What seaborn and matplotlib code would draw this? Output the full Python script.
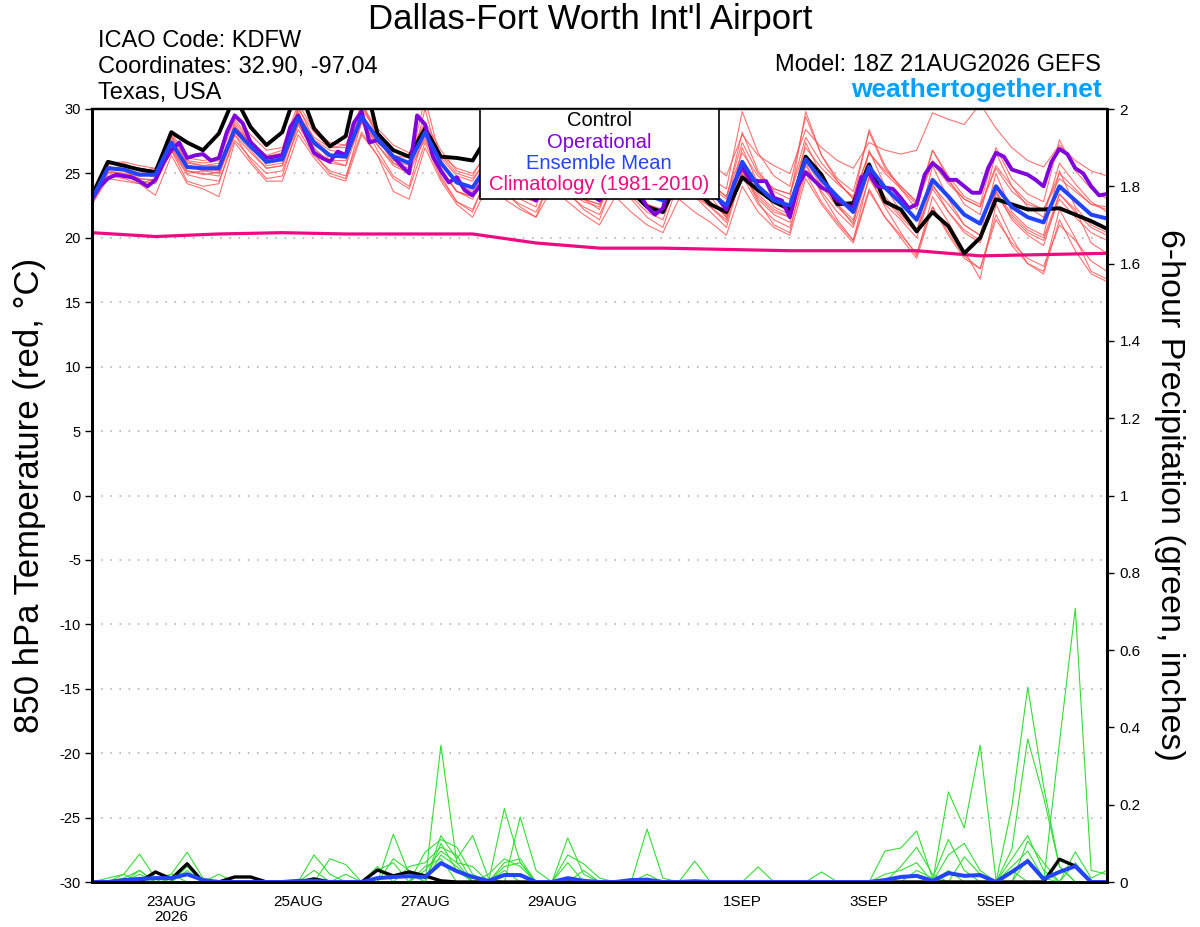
import numpy as np
import pandas as pd
import seaborn as sns
import matplotlib.pyplot as plt
from matplotlib.patches import Rectangle

# forecast hours (GEFS 6-hourly, operational 3-hourly)
fhours = np.arange(0, 385, 6)
op_hours = np.arange(0, 385, 3)
clim_hours = np.arange(0, 385, 24)

tick_hours = [30, 78, 126, 174, 246, 294, 342]
tick_labels = ["23AUG\n2026", "25AUG", "27AUG", "29AUG", "1SEP", "3SEP", "5SEP"]

# 850 hPa temperature, degC
control = [23.3, 25.9, 25.6, 25.3, 25.1, 28.2, 27.4, 26.8, 28.1, 31.0, 28.6, 27.2, 28.2,
           31.8, 28.5, 27.1, 27.9, 33.3, 28.1, 26.8, 26.3, 28.5, 26.3, 26.2, 26.0, 28.0,
           25.8, 24.4, 23.6, 25.8, 24.6, 23.5, 23.0, 25.0, 23.6, 22.4, 22.0, 24.6, 23.8,
           22.6, 22.0, 24.7, 23.7, 22.8, 22.2, 26.3, 24.9, 22.6, 22.7, 25.7, 22.8, 22.2,
           20.5, 22.0, 20.9, 18.8, 20.0, 23.0, 22.6, 22.2, 22.2, 22.3, 21.8, 21.3, 20.7]

ens_mean = [23.0, 25.4, 25.3, 24.9, 24.9, 27.4, 25.5, 25.4, 25.4, 28.4, 27.1, 25.9, 26.1,
            29.3, 27.4, 26.4, 26.3, 29.4, 27.7, 26.3, 25.8, 28.2, 25.8, 24.3, 23.9, 25.8,
            24.6, 23.8, 23.4, 25.6, 24.6, 23.8, 23.3, 25.4, 24.2, 23.3, 22.9, 25.2, 24.2,
            23.5, 22.5, 25.9, 24.0, 22.9, 22.5, 26.1, 24.5, 23.2, 22.0, 25.5, 23.9, 22.7,
            21.4, 24.5, 23.2, 21.8, 21.1, 24.0, 22.4, 21.6, 21.2, 24.0, 22.9, 21.8, 21.5]

operational = [23.0, 24.0, 24.6, 24.9, 24.8, 24.7, 24.4, 24.0, 24.5, 25.8, 26.8, 27.4, 26.2,
               26.4, 26.5, 26.0, 26.2, 28.2, 29.5, 28.9, 27.4, 26.8, 26.2, 26.3, 26.4, 28.6,
               29.5, 28.0, 26.6, 26.2, 25.9, 26.7, 26.4, 28.9, 29.8, 27.4, 27.6, 27.0, 26.3,
               25.6, 25.0, 29.5, 28.8, 26.3, 25.2, 24.3, 24.7, 23.7, 23.3, 24.1, 25.5, 25.8,
               25.0, 24.3, 23.8, 23.3, 22.9, 24.0, 25.8, 25.5, 24.8, 24.2, 23.8, 23.3, 22.9,
               24.2, 25.6, 25.2, 24.5, 23.5, 22.4, 21.8, 22.3, 24.5, 25.6, 25.0, 24.3, 23.7,
               23.6, 23.0, 22.2, 24.3, 25.5, 24.5, 24.4, 24.4, 23.1, 22.9, 21.6, 24.0, 25.1,
               24.5, 23.9, 23.6, 22.9, 22.6, 22.3, 24.7, 25.0, 24.0, 23.9, 23.8, 23.1, 22.3,
               22.6, 24.9, 25.8, 25.3, 24.5, 24.5, 24.0, 23.5, 23.5, 25.4, 26.6, 26.3, 25.3,
               25.1, 24.9, 24.5, 24.0, 25.9, 26.9, 26.5, 25.4, 25.0, 24.0, 23.3, 23.4]

climatology = [20.4, 20.1, 20.3, 20.4, 20.3, 20.3, 20.3, 19.6, 19.2,
               19.2, 19.1, 19.0, 19.0, 19.0, 18.6, 18.7, 18.8]

temp_members = {
    "m01": [23.2, 25.8, 25.9, 25.6, 25.4, 28.0, 26.0, 25.8, 26.0, 29.2, 27.6, 26.3, 26.6,
            30.0, 28.2, 27.0, 27.2, 30.2, 28.5, 27.2, 26.6, 29.0, 26.8, 25.2, 24.8, 27.0,
            25.8, 25.0, 24.6, 27.0, 26.0, 25.2, 24.6, 27.0, 25.8, 24.8, 24.4, 27.4, 26.5,
            25.8, 24.8, 28.0, 26.4, 25.6, 25.0, 28.4, 27.0, 26.0, 25.4, 27.4, 26.8, 26.5,
            26.8, 29.7, 29.2, 28.8, 30.4, 28.5, 27.0, 26.0, 25.5, 27.2, 26.0, 25.2, 24.8],
    "m02": [22.8, 25.0, 24.8, 24.4, 24.2, 26.8, 24.9, 24.6, 24.4, 27.6, 26.2, 25.0, 25.2,
            28.4, 26.4, 25.2, 24.8, 28.2, 26.4, 23.6, 23.0, 27.0, 24.4, 22.6, 21.6, 24.2,
            23.0, 22.2, 21.6, 23.8, 22.8, 21.8, 21.0, 23.2, 22.0, 21.0, 20.4, 23.0, 22.0,
            21.2, 20.2, 24.0, 22.0, 20.8, 20.2, 24.6, 22.6, 21.0, 19.6, 23.6, 21.6, 20.2,
            18.8, 22.4, 20.4, 18.6, 17.6, 21.4, 19.6, 18.4, 17.8, 21.0, 19.8, 18.2, 17.4],
    "m03": [23.1, 25.6, 25.2, 24.6, 24.5, 27.9, 25.2, 24.9, 25.1, 29.0, 27.4, 25.6, 25.8,
            30.2, 27.6, 26.0, 25.6, 30.4, 27.8, 25.8, 25.0, 30.0, 25.4, 23.6, 23.0, 26.4,
            24.4, 23.0, 22.4, 26.4, 24.4, 23.0, 22.2, 26.2, 24.0, 22.6, 22.0, 26.4, 24.6,
            23.2, 21.6, 27.0, 24.2, 22.4, 21.8, 27.4, 24.8, 22.6, 21.0, 26.8, 24.0, 22.0,
            20.4, 25.6, 23.0, 21.0, 20.2, 25.0, 22.0, 20.8, 20.2, 25.2, 22.4, 21.0, 20.4],
    "m04": [22.9, 25.3, 25.6, 25.4, 25.2, 27.6, 25.8, 25.6, 25.8, 28.6, 27.4, 26.4, 26.8,
            29.6, 27.8, 27.0, 27.0, 29.0, 27.4, 26.4, 26.2, 28.4, 26.4, 25.4, 25.0, 26.6,
            25.6, 24.8, 24.4, 26.4, 25.6, 24.8, 24.4, 26.6, 25.4, 24.6, 24.2, 27.0, 25.6,
            24.6, 23.8, 29.8, 26.6, 24.8, 24.0, 29.4, 26.4, 24.6, 23.6, 28.2, 25.4, 24.0,
            22.8, 26.8, 24.8, 23.2, 22.6, 27.0, 24.6, 23.4, 22.8, 27.6, 25.2, 23.8, 23.0],
    "m05": [22.7, 24.8, 24.6, 24.2, 24.6, 26.8, 24.4, 24.0, 24.2, 28.0, 26.0, 24.6, 24.8,
            28.8, 26.6, 25.0, 24.6, 29.0, 26.8, 24.8, 24.0, 28.4, 24.8, 22.8, 22.0, 25.2,
            23.6, 22.4, 21.6, 25.0, 23.6, 22.2, 21.4, 24.8, 23.0, 21.6, 20.8, 24.4, 23.2,
            22.0, 20.8, 25.2, 22.8, 21.0, 20.4, 25.8, 23.4, 21.4, 19.8, 24.8, 22.4, 20.4,
            18.6, 23.2, 21.2, 19.0, 16.8, 22.6, 20.0, 18.0, 17.4, 22.2, 20.0, 17.4, 16.8],
    "m06": [23.4, 25.9, 25.6, 25.2, 25.4, 28.2, 26.2, 26.0, 26.2, 29.6, 28.0, 26.8, 27.0,
            30.4, 28.4, 27.4, 27.2, 30.0, 28.2, 26.8, 26.2, 28.6, 26.2, 24.8, 24.4, 26.4,
            25.2, 24.4, 24.0, 26.2, 25.0, 24.2, 23.8, 25.6, 24.4, 23.6, 23.2, 25.8, 25.0,
            24.2, 23.2, 27.4, 25.0, 23.8, 23.4, 27.8, 25.8, 24.4, 23.0, 26.6, 25.0, 23.8,
            22.6, 25.8, 24.2, 23.0, 22.4, 25.6, 24.0, 22.8, 22.2, 25.0, 23.8, 22.6, 22.4],
    "m07": [22.9, 25.2, 25.0, 24.8, 25.0, 27.0, 25.0, 25.2, 25.0, 28.0, 26.6, 25.4, 25.6,
            28.8, 26.8, 26.0, 26.0, 29.0, 27.2, 25.8, 25.4, 27.6, 25.2, 23.6, 23.2, 25.0,
            24.0, 23.2, 22.8, 24.6, 23.6, 22.8, 22.4, 24.6, 23.4, 22.4, 22.0, 24.4, 23.2,
            22.4, 21.4, 25.2, 23.0, 21.8, 21.2, 25.6, 23.6, 22.0, 20.8, 24.6, 22.6, 21.4,
            20.0, 24.0, 22.6, 21.0, 20.2, 23.4, 21.6, 20.4, 19.8, 23.0, 21.6, 20.4, 19.8],
    "m08": [23.0, 25.5, 25.4, 25.0, 24.7, 27.2, 25.6, 25.2, 25.2, 28.8, 27.0, 25.8, 26.0,
            29.8, 27.2, 26.4, 26.2, 30.6, 28.0, 26.0, 25.6, 30.8, 26.0, 24.2, 23.6, 25.4,
            24.2, 23.4, 23.0, 25.0, 24.0, 23.0, 22.6, 24.8, 23.6, 22.6, 22.2, 24.6, 23.4,
            22.6, 21.8, 25.0, 23.2, 22.0, 21.6, 26.4, 24.2, 22.6, 21.4, 25.6, 23.2, 21.8,
            20.6, 23.8, 22.0, 20.4, 19.6, 23.6, 21.4, 20.2, 19.4, 23.4, 22.2, 19.6, 18.8],
    "m09": [23.3, 25.7, 25.8, 25.2, 25.0, 27.8, 25.9, 25.6, 25.6, 28.6, 27.6, 26.2, 26.4,
            29.2, 27.6, 26.8, 26.6, 29.2, 27.8, 26.8, 26.4, 28.2, 26.4, 25.0, 24.6, 26.2,
            25.4, 24.6, 24.2, 26.0, 25.2, 24.4, 23.8, 25.6, 24.8, 24.0, 23.4, 25.4, 24.8,
            24.2, 23.2, 26.6, 24.8, 23.8, 23.4, 27.0, 25.4, 24.2, 23.2, 26.6, 25.2, 24.0,
            22.8, 26.0, 24.4, 23.0, 22.4, 25.4, 23.6, 22.6, 22.2, 24.6, 23.6, 22.6, 22.2],
    "m10": [22.6, 24.6, 24.4, 24.2, 23.3, 26.4, 24.2, 23.8, 23.2, 27.4, 25.8, 24.4, 24.4,
            28.0, 26.2, 24.8, 24.4, 28.0, 26.4, 24.6, 23.8, 27.4, 24.6, 22.8, 22.2, 24.8,
            23.4, 22.6, 22.0, 24.6, 23.4, 22.4, 21.8, 24.4, 23.2, 22.0, 21.4, 24.8, 23.6,
            22.8, 21.6, 25.6, 23.4, 22.2, 21.6, 26.0, 24.0, 22.4, 21.2, 25.2, 23.0, 21.6,
            20.4, 24.2, 22.0, 20.6, 19.8, 23.6, 21.8, 20.6, 20.0, 23.4, 22.0, 20.8, 20.2],
    "m11": [23.1, 25.4, 25.2, 25.0, 25.2, 27.4, 25.4, 25.4, 25.6, 28.2, 27.2, 26.0, 26.2,
            29.0, 27.2, 26.4, 26.4, 29.4, 27.6, 26.2, 25.8, 28.0, 25.8, 24.4, 24.0, 25.8,
            24.8, 24.0, 23.6, 25.8, 24.8, 24.0, 23.6, 25.8, 24.6, 23.8, 23.4, 26.2, 25.0,
            24.0, 23.0, 28.2, 25.2, 23.6, 23.0, 29.8, 26.4, 24.4, 23.0, 28.4, 25.6, 23.8,
            22.2, 26.8, 24.6, 22.6, 21.8, 26.6, 24.0, 22.4, 21.6, 25.8, 24.2, 22.8, 22.0],
    "m12": [22.8, 25.1, 25.0, 24.6, 24.4, 27.0, 25.2, 25.0, 24.8, 28.2, 26.8, 25.4, 25.6,
            29.0, 27.0, 25.8, 25.6, 29.0, 27.2, 25.6, 25.0, 27.8, 25.2, 23.6, 23.2, 25.2,
            24.0, 23.2, 22.8, 25.0, 24.0, 23.0, 22.6, 24.8, 23.6, 22.6, 22.0, 24.6, 23.4,
            22.4, 21.2, 24.8, 22.6, 21.4, 20.8, 25.0, 22.8, 21.2, 19.8, 23.8, 21.6, 20.0,
            18.4, 22.4, 20.2, 18.4, 17.6, 21.8, 19.4, 18.0, 17.2, 21.4, 19.0, 17.2, 16.6],
}

# 6-hour precipitation, inches (only non-zero steps listed, keyed by 6-h step)
control_precip = {4: 0.026, 5: 0.008, 6: 0.047, 9: 0.013, 10: 0.013, 14: 0.008,
                  18: 0.031, 19: 0.016, 20: 0.026, 21: 0.016, 22: 0.003,
                  61: 0.059, 62: 0.041}
mean_precip = {2: 0.005, 3: 0.008, 4: 0.01, 5: 0.01, 6: 0.02, 7: 0.005, 13: 0.003,
               14: 0.003, 18: 0.01, 19: 0.013, 20: 0.015, 21: 0.013, 22: 0.049,
               23: 0.028, 24: 0.013, 25: 0.003, 26: 0.018, 27: 0.018, 30: 0.01,
               31: 0.003, 34: 0.005, 35: 0.006, 38: 0.002, 50: 0.005, 51: 0.013,
               52: 0.016, 53: 0.003, 54: 0.023, 55: 0.016, 56: 0.018, 58: 0.026,
               59: 0.054, 60: 0.008, 61: 0.026, 62: 0.041}
precip_members = {
    "p01": {2: 0.02, 3: 0.072, 4: 0.01, 19: 0.124, 20: 0.02, 22: 0.354, 23: 0.05,
            26: 0.03, 54: 0.233, 55: 0.14, 56: 0.354, 57: 0.005, 58: 0.03},
    "p02": {5: 0.02, 6: 0.077, 7: 0.01, 21: 0.077, 22: 0.11, 23: 0.09, 24: 0.02,
            26: 0.19, 27: 0.05, 52: 0.03, 53: 0.01, 58: 0.194, 59: 0.504, 60: 0.248,
            61: 0.04},
    "p03": {14: 0.07, 15: 0.02, 18: 0.04, 22: 0.12, 23: 0.06, 24: 0.12, 25: 0.01,
            35: 0.137, 36: 0.01, 50: 0.08, 51: 0.088, 52: 0.132, 53: 0.01, 54: 0.11,
            55: 0.03, 58: 0.085, 59: 0.37, 60: 0.22, 61: 0.04},
    "p04": {3: 0.03, 6: 0.04, 15: 0.06, 16: 0.045, 20: 0.04, 21: 0.05, 22: 0.09,
            23: 0.07, 27: 0.168, 28: 0.03, 61: 0.36, 62: 0.708, 63: 0.03, 64: 0.02},
    "p05": {2: 0.01, 3: 0.03, 6: 0.03, 18: 0.03, 19: 0.05, 22: 0.07, 23: 0.04,
            26: 0.05, 27: 0.06, 30: 0.114, 31: 0.02, 54: 0.07, 55: 0.1, 56: 0.03,
            59: 0.106, 60: 0.05},
    "p06": {1: 0.01, 2: 0.02, 8: 0.02, 14: 0.03, 21: 0.03, 22: 0.08, 23: 0.05,
            24: 0.04, 30: 0.07, 31: 0.047, 32: 0.01, 42: 0.039, 51: 0.04, 52: 0.09,
            53: 0.02, 58: 0.06, 59: 0.12, 60: 0.03},
    "p07": {3: 0.02, 6: 0.05, 19: 0.06, 20: 0.03, 22: 0.1, 23: 0.03, 26: 0.04,
            27: 0.05, 30: 0.05, 38: 0.054, 46: 0.026, 55: 0.065, 56: 0.02, 59: 0.06,
            62: 0.078, 63: 0.01, 64: 0.03},
    "p08": {4: 0.01, 5: 0.02, 16: 0.02, 21: 0.04, 22: 0.06, 25: 0.02, 26: 0.06,
            27: 0.04, 31: 0.03, 35: 0.02, 50: 0.02, 51: 0.03, 52: 0.05, 54: 0.03,
            58: 0.04, 59: 0.08, 60: 0.01, 62: 0.05},
}


def precip_series(steps):
    vals = np.zeros(len(fhours))
    for k, v in steps.items():
        vals[k] = v
    return vals


sns.set_style("white")
plt.rcParams['font.family'] = ['Liberation Sans', 'DejaVu Sans']
plt.rcParams['axes.unicode_minus'] = False
plt.rcParams['text.color'] = 'black'
plt.rcParams['xtick.color'] = 'black'
plt.rcParams['ytick.color'] = 'black'
plt.rcParams['axes.edgecolor'] = 'black'

W, H = 1200, 927
fig = plt.figure(figsize=(W / 100, H / 100), dpi=100)
ax = fig.add_axes([92 / W, (H - 882) / H, (1107 - 92) / W, (882 - 109) / H])

# temperature ensemble members
temp_df = pd.DataFrame([
    {"fhour": h, "member": name, "temp": t}
    for name, vals in temp_members.items() for h, t in zip(fhours, vals)
])
sns.lineplot(data=temp_df, x="fhour", y="temp", units="member", estimator=None,
             color="#ff5050", lw=0.8, alpha=0.8, ax=ax, legend=False)

sns.lineplot(x=clim_hours, y=climatology, color="#ee0a80", lw=2.3, ax=ax)
sns.lineplot(x=fhours, y=control, color="black", lw=2.8, ax=ax)
sns.lineplot(x=op_hours, y=operational, color="#8000dd", lw=2.8, ax=ax)
sns.lineplot(x=fhours, y=ens_mean, color="#2244ff", lw=2.9, ax=ax)

ax.set_xlim(0, 384)
ax.set_ylim(-30, 30)
ax.set_yticks(np.arange(-30, 31, 5))
ax.yaxis.grid(True, linestyle=(0, (1, 5)), color="#a8a8a8", lw=1.1)
ax.set_xticks(tick_hours)
ax.set_xticklabels(tick_labels, fontsize=11, linespacing=1.1)
ax.tick_params(axis="y", labelsize=10.5, direction="out", length=5, width=1, pad=3)
ax.tick_params(axis="x", direction="out", length=5, width=1, pad=4)
ax.set_xlabel("")
ax.set_ylabel("")
for side in ["left", "right", "bottom"]:
    ax.spines[side].set_linewidth(2.0)
ax.spines["top"].set_linewidth(1.6)

# precipitation on the right axis
ax2 = ax.twinx()
prec_df = pd.DataFrame([
    {"fhour": h, "member": name, "precip": p}
    for name, steps in precip_members.items()
    for h, p in zip(fhours, precip_series(steps))
])
sns.lineplot(data=prec_df, x="fhour", y="precip", units="member", estimator=None,
             color="#33dd33", lw=0.8, ax=ax2, legend=False)
sns.lineplot(x=fhours, y=precip_series(control_precip), color="black", lw=2.4, ax=ax2)
sns.lineplot(x=fhours, y=precip_series(mean_precip), color="#2244ff", lw=2.9, ax=ax2)

ax2.set_ylim(0, 2)
ax2.set_xlim(0, 384)
ax2.set_yticks(np.arange(0, 2.01, 0.2))
ax2.set_yticklabels(["0", "0.2", "0.4", "0.6", "0.8", "1", "1.2", "1.4", "1.6", "1.8", "2"])
ax2.tick_params(axis="y", labelsize=11, direction="out", length=5, width=1, pad=4)
ax2.set_ylabel("")
ax2.set_xlabel("")
for side in ["left", "right", "bottom"]:
    ax2.spines[side].set_linewidth(2.0)
ax2.spines["top"].set_linewidth(1.6)

# legend box
ax2.add_patch(Rectangle((480 / W, 1 - 199 / H), (719 - 480) / W, (199 - 109) / H,
                        transform=fig.transFigure, facecolor="white", edgecolor="black",
                        lw=1.2, zorder=10, clip_on=False))
legend_items = [("Control", "black"), ("Operational", "#8000dd"),
                ("Ensemble Mean", "#2244ff"), ("Climatology (1981-2010)", "#ee0a80")]
for k, (txt, col) in enumerate(legend_items):
    fig.text(599 / W, 1 - (121 + 21.3 * k) / H, txt, color=col, fontsize=14.5,
             ha="center", va="center", zorder=11)

# header texts
fig.text(590 / W, 1 - 29 / H, "Dallas-Fort Worth Int'l Airport", fontsize=25,
         ha="center", va="baseline")
fig.text(98 / W, 1 - 47 / H, "ICAO Code: KDFW", fontsize=17, va="baseline")
fig.text(98 / W, 1 - 73 / H, "Coordinates: 32.90, -97.04", fontsize=17, va="baseline")
fig.text(98 / W, 1 - 99 / H, "Texas, USA", fontsize=17, va="baseline")
fig.text(1101 / W, 1 - 71 / H, "Model: 18Z 21AUG2026 GEFS", fontsize=17,
         ha="right", va="baseline")
fig.text(1102 / W, 1 - 97 / H, "weathertogether.net", fontsize=19, fontweight="bold",
         color="#00a0ff", ha="right", va="baseline")

# axis titles
fig.text(30 / W, 1 - 495 / H, "850 hPa Temperature (red, °C)", fontsize=25,
         rotation=90, ha="center", va="center")
fig.text(1170 / W, 1 - 495 / H, "6-hour Precipitation (green, inches)", fontsize=24.5,
         rotation=270, ha="center", va="center")

fig.savefig("out.png", dpi=100)
